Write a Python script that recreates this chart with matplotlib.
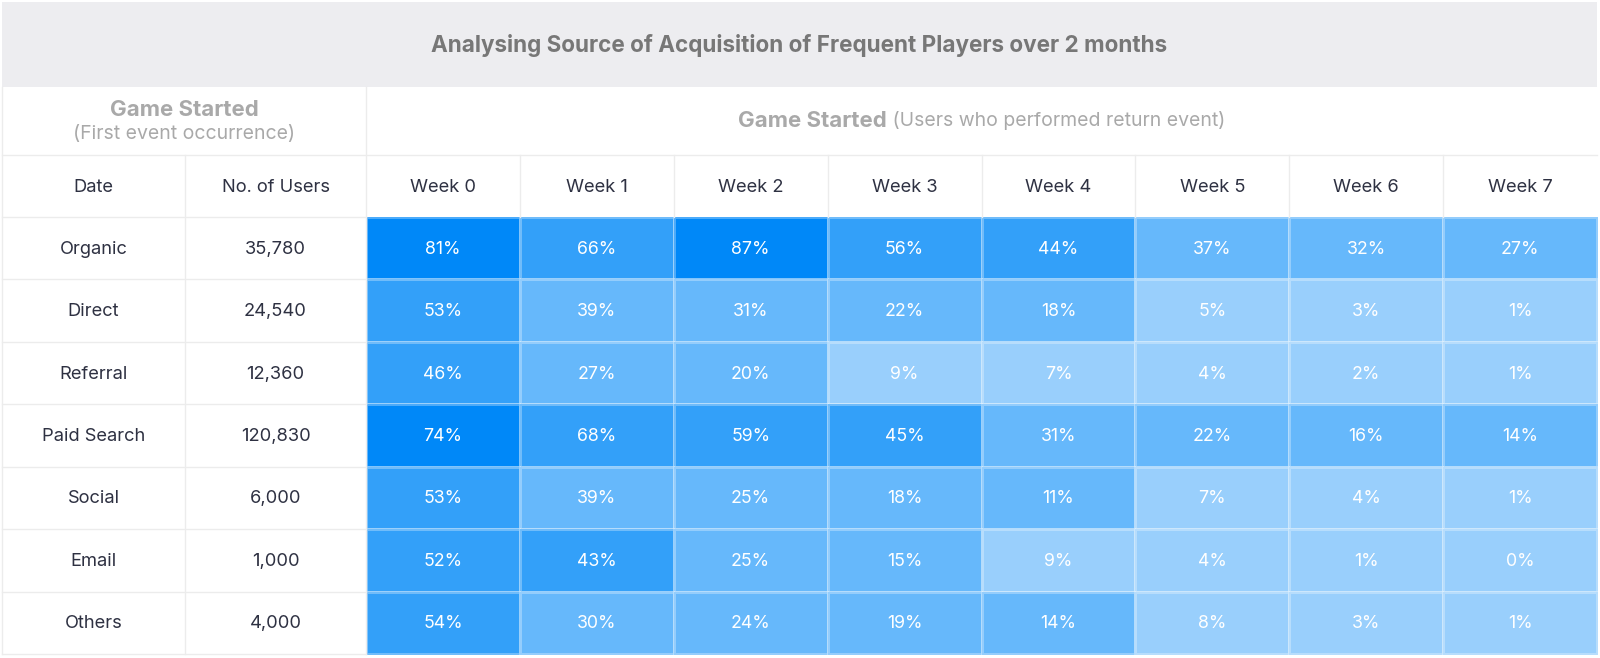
import matplotlib
matplotlib.use("Agg")
import matplotlib.pyplot as plt
from matplotlib.colors import ListedColormap, BoundaryNorm
from matplotlib.patches import Rectangle
import numpy as np

plt.rcParams['font.family'] = ['Inter', 'DejaVu Sans']

# ---- data ----
title = "Analysing Source of Acquisition of Frequent Players over 2 months"
sources = ["Organic", "Direct", "Referral", "Paid Search", "Social", "Email", "Others"]
users = [35780, 24540, 12360, 120830, 6000, 1000, 4000]
weeks = ["Week 0", "Week 1", "Week 2", "Week 3", "Week 4", "Week 5", "Week 6", "Week 7"]
retention = np.array([
    [81, 66, 87, 56, 44, 37, 32, 27],
    [53, 39, 31, 22, 18, 5, 3, 1],
    [46, 27, 20, 9, 7, 4, 2, 1],
    [74, 68, 59, 45, 31, 22, 16, 14],
    [53, 39, 25, 18, 11, 7, 4, 1],
    [52, 43, 25, 15, 9, 4, 1, 0],
    [54, 30, 24, 19, 14, 8, 3, 1],
])

# ---- layout (pixels) ----
W, H = 1600, 658
left, right = 2, 1597
c1, c2 = 185, 366
top, t1, t2, t3, bottom = 2, 87, 155, 217, 654
dark = "#2e3142"
grey = "#a9a9a9"
line = "#ececec"
fs = 13.2

fig = plt.figure(figsize=(W / 100, H / 100), dpi=100)
ax = fig.add_axes([0, 0, 1, 1])
ax.set_xlim(0, W)
ax.set_ylim(H, 0)
ax.axis("off")

# title band
ax.add_patch(Rectangle((left, top), right - left, t1 - top, color="#ededf0", lw=0))
ax.text((left + right) / 2, (top + t1) / 2 + 1, title, ha="center", va="center",
        fontsize=16.2, fontweight="bold", color="#777777")

# heat cells: buckets <10, 10-39, 40-69, 70+
base = np.array([0, 136, 248]) / 255
shades = [tuple(1 - a * (1 - base)) for a in (0.4, 0.6, 0.8, 1.0)]
cmap = ListedColormap(shades)
norm = BoundaryNorm([0, 10, 40, 70, 101], cmap.N)
xe = np.linspace(c2, right, len(weeks) + 1)
ye = np.linspace(t3, bottom, len(sources) + 1)
ax.pcolormesh(xe, ye, retention, cmap=cmap, norm=norm,
              edgecolor=(1, 1, 1, 0.3), linewidth=0.8)

xc = (xe[:-1] + xe[1:]) / 2
yc = (ye[:-1] + ye[1:]) / 2
for i in range(len(sources)):
    for j in range(len(weeks)):
        ax.text(xc[j], yc[i] + 1, f"{retention[i, j]}%", ha="center", va="center",
                fontsize=12.8, color="white")

# grid lines on the white part
for y in ye:
    ax.plot([left, c2], [y, y], color=line, lw=1)
ax.plot([left, right], [t2, t2], color=line, lw=1)
ax.plot([left, left], [t1, bottom], color=line, lw=1)
ax.plot([c1, c1], [t2, bottom], color=line, lw=1)
ax.plot([c2, c2], [t1, bottom], color=line, lw=1)
for x in xe[1:-1]:
    ax.plot([x, x], [t2, t3], color=line, lw=1)

# header row 2
lx = (left + c2) / 2
ax.text(lx, 110, "Game Started", ha="center", va="center",
        fontsize=16, fontweight="bold", color=grey)
ax.text(lx, 134, "(First event occurrence)", ha="center", va="center",
        fontsize=14, color=grey)

rx = (c2 + right) / 2
t_a = ax.text(0, 121, "Game Started", ha="left", va="center",
              fontsize=16, fontweight="bold", color=grey)
t_b = ax.text(0, 121, " (Users who performed return event)", ha="left",
              va="center", fontsize=14, color=grey)
fig.canvas.draw()
r = fig.canvas.get_renderer()
wa = t_a.get_window_extent(r).width
wb = t_b.get_window_extent(r).width
x0 = rx - (wa + wb) / 2
t_a.set_x(x0)
t_b.set_x(x0 + wa)

# header row 3
hy = (t2 + t3) / 2 + 1
ax.text((left + c1) / 2, hy, "Date", ha="center", va="center", fontsize=fs, color=dark)
ax.text((c1 + c2) / 2, hy, "No. of Users", ha="center", va="center", fontsize=fs, color=dark)
for j, wk in enumerate(weeks):
    ax.text(xc[j], hy, wk, ha="center", va="center", fontsize=fs, color=dark)

for i, src in enumerate(sources):
    ax.text((left + c1) / 2, yc[i] + 1, src, ha="center", va="center", fontsize=fs, color=dark)
    ax.text((c1 + c2) / 2, yc[i] + 1, f"{users[i]:,}", ha="center", va="center",
            fontsize=fs, color=dark)

fig.savefig("out.png", dpi=100)
